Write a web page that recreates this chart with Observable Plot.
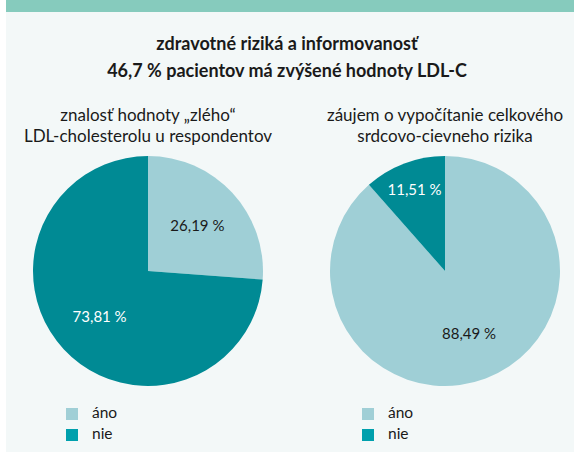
<!DOCTYPE html>
<html><head><meta charset="utf-8">
<script src="https://cdn.jsdelivr.net/npm/d3@7"></script>
<script src="https://cdn.jsdelivr.net/npm/@observablehq/plot@0.6"></script>
<style>
body{margin:0;background:#fff;font-family:Lato,"Noto Sans",sans-serif;color:#1a1a1a;}
#wrap{position:relative;width:574px;height:453px;overflow:hidden;}
#panel{position:absolute;left:6px;top:0;width:568px;height:452px;background:#f3f8f8;}
#band{position:absolute;left:6px;top:0;width:568px;height:12px;background:#86cbbd;}
.t{position:absolute;left:0;width:574px;text-align:center;font-weight:700;font-size:18px;line-height:22px;}
.sub{position:absolute;width:300px;text-align:center;font-size:17px;line-height:21px;}
.pie{position:absolute;}
.lg{position:absolute;font-size:15.5px;line-height:15px;}
.sw{position:absolute;width:12px;height:12px;}
</style></head>
<body>
<div id="wrap">
<div id="panel"></div>
<div id="band"></div>
</div>
<script>
const title = ["zdravotné riziká a informovanosť", "46,7 % pacientov má zvýšené hodnoty LDL-C"];
const categories = ["áno", "nie"];
const pieTitles = [["znalosť hodnoty „zlého“", "LDL-cholesterolu u respondentov"],
                   ["záujem o vypočítanie celkového", "srdcovo-cievneho rizika"]];
const pie1Values = [26.19, 73.81];
const pie2Values = [88.49, 11.51];
const pie1Labels = ["26,19 %", "73,81 %"];
const pie2Labels = ["88,49 %", "11,51 %"];
const pieColors = ["#9fcfd6", "#008a94"];
const legendColors = ["#a0cfd6", "#00a0ad"];
const labelColors = ["#1a1a1a", "#ffffff"];

const wrap = document.getElementById("wrap");
function add(html){ const d=document.createElement("div"); d.innerHTML=html; while(d.firstChild) wrap.appendChild(d.firstChild); }

add(`<div class="t" style="top:32px">${title[0]}</div><div class="t" style="top:59px">${title[1]}</div>`);

const R = 115, cy = 271;
const centers = [148, 445];

function makePie(values, labels, cx, k){
  const data = categories.map((c,i)=>({cat:c, value:values[i], label:labels[i]}));
  const arcs = d3.pie().sort(null).value(d=>d.value)(data);
  arcs.forEach(a=>{
    const mid=(a.startAngle+a.endAngle)/2;
    const frac=(a.endAngle-a.startAngle)/(2*Math.PI);
    const r = frac < 0.15 ? 0.76 : 0.58;
    a.lx = r*Math.sin(mid); a.ly = r*Math.cos(mid);
  });
  const size = 2*R+10;
  const plot = Plot.plot({
    width:size, height:size, margin:5,
    x:{domain:[-1,1], axis:null}, y:{domain:[-1,1], axis:null},
    style:{background:"transparent", overflow:"visible"},
    marks:[
      (index, scales, values, dims) => {
        const x = scales.x, y = scales.y;
        const ox = x(0), oy = y(0), rr = x(1)-x(0);
        const g = d3.create("svg:g").attr("transform",`translate(${ox},${oy})`);
        const arc = d3.arc().innerRadius(0).outerRadius(rr);
        g.selectAll("path").data(arcs).join("path")
          .attr("d", arc)
          .attr("fill", (d,i)=>pieColors[i]);
        return g.node();
      },
      Plot.text(arcs, {x:"lx", y:"ly", text:d=>d.data.label,
        fill:(d)=>labelColors[d.index], fontSize:15, fontFamily:"Lato, 'Noto Sans', sans-serif"})
    ]
  });
  plot.classList.add("pie");
  plot.style.left = (cx - R - 5)+"px";
  plot.style.top = (cy - R - 5)+"px";
  wrap.appendChild(plot);
  add(`<div class="sub" style="left:${cx-150}px;top:104px">${pieTitles[k][0]}<br>${pieTitles[k][1]}</div>`);
}
makePie(pie1Values, pie1Labels, centers[0], 0);
makePie(pie2Values, pie2Labels, centers[1], 1);

const legendX = [[66,92],[362,388]];
legendX.forEach(([sx,tx])=>{
  categories.forEach((c,i)=>{
    const top = 408 + i*21;
    add(`<div class="sw" style="left:${sx}px;top:${top}px;background:${legendColors[i]}"></div><div class="lg" style="left:${tx}px;top:${top-3}px">${c}</div>`);
  });
});
</script>
</body></html>
